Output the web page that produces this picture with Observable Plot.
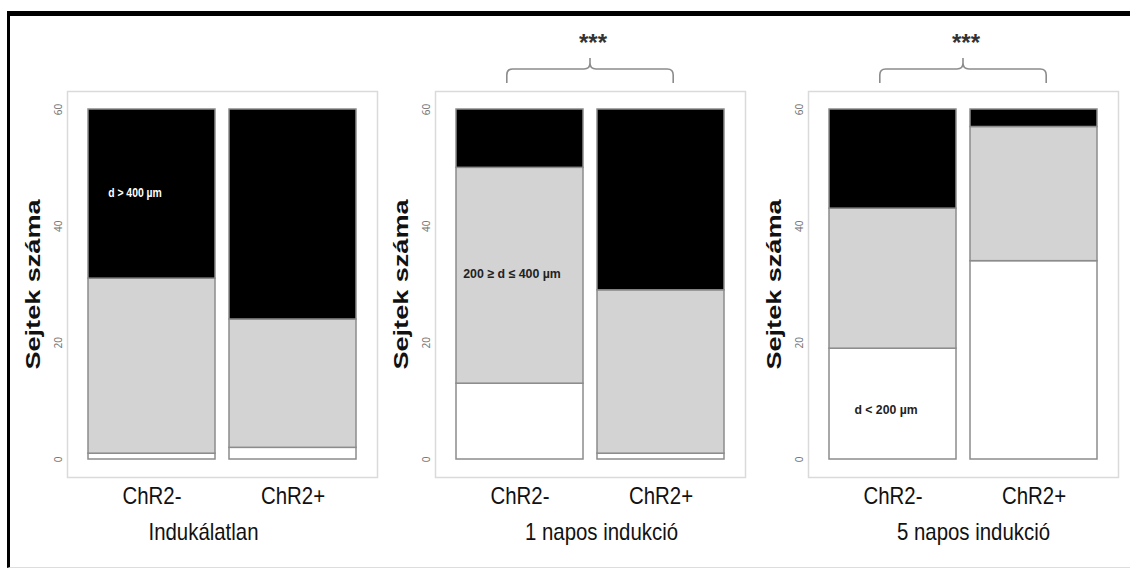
<!DOCTYPE html>
<html><head><meta charset="utf-8">
<script src="https://cdn.jsdelivr.net/npm/d3@7"></script>
<script src="https://cdn.jsdelivr.net/npm/@observablehq/plot@0.6"></script>
<style>
body{margin:0;background:#fff;}
#wrap{position:relative;width:1130px;height:569px;overflow:hidden;background:#fff;}
#border{position:absolute;left:7px;top:11px;width:1123px;height:557px;border-top:5px solid #000;border-left:3px solid #000;border-bottom:1px solid #ddd;box-sizing:border-box;}
.panel{position:absolute;top:16px;}
</style></head><body><div id="wrap"><div id="border"></div></div>
<script>
// ---- data ----
const conditions = ["ChR2-", "ChR2+"];
const groups = ["Indukálatlan", "1 napos indukció", "5 napos indukció"];
const classes = ["d < 200 µm", "200 ≥ d ≤ 400 µm", "d > 400 µm"];
const smallCounts = [[1, 2], [13, 1], [19, 34]];   // d < 200 µm (white)
const midCounts   = [[30, 22], [37, 28], [24, 23]]; // 200–400 µm (grey)
const largeCounts = [[29, 36], [10, 31], [17, 3]];  // d > 400 µm (black)
const significance = ["", "***", "***"];
const yTicks = [0, 20, 40, 60];
const yLabel = "Sejtek száma";
const classNotes = [
  {group: 0, cond: "ChR2-", text: "d > 400 µm", y: 45.8},
  {group: 1, cond: "ChR2-", text: "200 ≥ d ≤ 400 µm", y: 31.9},
  {group: 2, cond: "ChR2-", text: "d < 200 µm", y: 8.6}
];
// ---- styling / layout ----
const noteColors = ["#fff", "#222", "#222"];
const noteDx = [-17, -8, -7];
const noteSquash = [0.8, 0.95, 0.94];
const panelLefts = [17, 385, 758];
const groupLabelDx = [-19, 11, 10];

const sans = "'Liberation Sans', Arial, sans-serif";
const wrap = document.getElementById("wrap");

function squash(el, k) {
  const w = el.getComputedTextLength();
  el.setAttribute("textLength", (w * k).toFixed(1));
  el.setAttribute("lengthAdjust", "spacingAndGlyphs");
}

groups.forEach((g, gi) => {
  const rows = [];
  conditions.forEach((c, ci) => {
    rows.push({cond: c, cls: classes[0], value: smallCounts[gi][ci]});
    rows.push({cond: c, cls: classes[1], value: midCounts[gi][ci]});
    rows.push({cond: c, cls: classes[2], value: largeCounts[gi][ci]});
  });
  const notes = classNotes.filter(d => d.group === gi);
  const chart = Plot.plot({
    width: 362, height: 536,
    marginLeft: 50, marginRight: 2, marginTop: 75, marginBottom: 75,
    style: {background: "transparent", overflow: "visible"},
    x: {domain: conditions, paddingInner: 0.1, paddingOuter: 0, insetLeft: 21, insetRight: 21, axis: null},
    y: {domain: [0, 60], insetTop: 18, insetBottom: 18, axis: null},
    color: {domain: classes, range: ["#ffffff", "#d3d3d3", "#000000"]},
    marks: [
      Plot.frame({stroke: "#dadada", strokeWidth: 1.5}),
      Plot.barY(rows, {x: "cond", y: "value", fill: "cls", stroke: "#8c8c8c", strokeWidth: 1.5}),
      Plot.axisY(yTicks, {tickSize: 0, tickPadding: 6, tickRotate: -90, fontSize: 10, color: "#777", label: null}),
      Plot.axisX({tickSize: 0, tickPadding: 9, fontSize: 24, fontFamily: sans, color: "#111", label: null, className: "xlab"}),
      Plot.text([g], {frameAnchor: "bottom", dy: 55, dx: groupLabelDx[gi], lineAnchor: "middle", fontSize: 24, fontFamily: sans, fill: "#111", className: "glab"}),
      Plot.text([yLabel], {frameAnchor: "left", rotate: -90, dx: -34, textAnchor: "middle", lineAnchor: "middle", fontSize: 21, fontWeight: "bold", fontFamily: sans, fill: "#111", className: "ylab"}),
      Plot.text(notes, {x: "cond", y: "y", text: "text", dx: noteDx[gi], fill: noteColors[gi], fontSize: 13, fontWeight: "bold", fontFamily: sans, className: "note"})
    ]
  });
  chart.classList.add("panel");
  chart.style.left = panelLefts[gi] + "px";
  wrap.appendChild(chart);
  const svg = d3.select(chart);
  svg.selectAll(".xlab text, .glab text").each(function() { squash(this, 0.85); });
  svg.selectAll(".note text").each(function() { squash(this, noteSquash[gi]); });
  svg.selectAll(".ylab text").each(function() {
    this.setAttribute("textLength", 170);
    this.setAttribute("lengthAdjust", "spacingAndGlyphs");
  });

  if (significance[gi]) {
    const xs = chart.scale("x"), ys = chart.scale("y");
    const bw = xs.bandwidth;
    const x1 = xs.apply(conditions[0]) + bw * 0.4;
    const x2 = xs.apply(conditions[1]) + bw * 0.6;
    const xm = (x1 + x2) / 2;
    const top = ys.apply(60);
    const yEnd = top - 26, yH = top - 40, yTip = top - 51;
    const r = 6;
    const path = `M${x1},${yEnd} L${x1},${yH + r} Q${x1},${yH} ${x1 + r},${yH} L${xm - r},${yH} Q${xm},${yH} ${xm},${yH - r} L${xm},${yTip} M${xm},${yH - r} Q${xm},${yH} ${xm + r},${yH} L${x2 - r},${yH} Q${x2},${yH} ${x2},${yH + r} L${x2},${yEnd}`;
    svg.append("path").attr("d", path).attr("fill", "none").attr("stroke", "#8c8c8c").attr("stroke-width", 1.6);
    svg.append("text").attr("x", xm + 3).attr("y", top - 58).attr("text-anchor", "middle")
      .attr("font-family", sans).attr("font-size", 24).attr("font-weight", "bold").attr("fill", "#333")
      .text(significance[gi]);
  }
});
</script>
</body></html>
